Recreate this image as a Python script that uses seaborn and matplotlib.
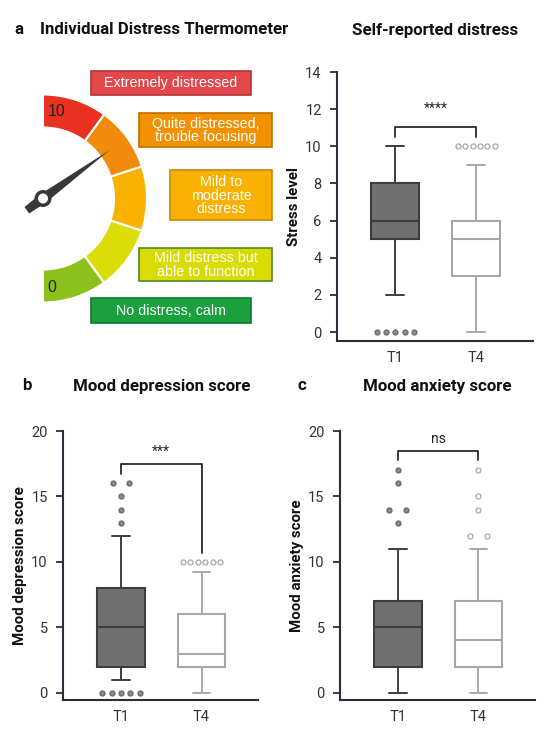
import numpy as np
import pandas as pd
import seaborn as sns
import matplotlib
matplotlib.use("Agg")
from matplotlib import pyplot as plt
from matplotlib.patches import Wedge, Rectangle, Polygon, Circle

sns.set_theme(style="ticks")
plt.rcParams['font.family'] = ['Roboto', 'DejaVu Sans']

groups = ["T1", "T4"]

# self-reported distress (box summaries)
stress_lo = [2, 0]
stress_q1 = [5, 3]
stress_med = [6, 5]
stress_q3 = [8, 6]
stress_hi = [10, 9]
stress_out = [[0, 0, 0, 0, 0], [10, 10, 10, 10, 10, 10]]

# mood depression score
dep_lo = [1, 0]
dep_q1 = [2, 2]
dep_med = [5, 3]
dep_q3 = [8, 6]
dep_hi = [12, 9.2]
dep_out = [[0, 0, 0, 0, 0, 13, 14, 15, 16, 16], [10, 10, 10, 10, 10, 10]]

# mood anxiety score
anx_lo = [0, 0]
anx_q1 = [2, 2]
anx_med = [5, 4]
anx_q3 = [7, 7]
anx_hi = [11, 11]
anx_out = [[13, 14, 14, 16, 17], [12, 12, 14, 15, 17]]

# thermometer levels, bottom to top
thermo_labels = ["No distress, calm", "Mild distress but\nable to function",
                 "Mild to\nmoderate\ndistress", "Quite distressed,\ntrouble focusing",
                 "Extremely distressed"]
thermo_seg_colors = ["#8cc11c", "#dcdc06", "#f9b200", "#f28b0c", "#e8321f"]
thermo_box_colors = ["#1aa03c", "#d8dc02", "#f8b100", "#f39200", "#e1474b"]
thermo_box_edges = ["#0f7a2c", "#4f8c1f", "#c48a00", "#c26f00", "#b43431"]
needle_angle = 36  # degrees above horizontal

dark = "#3d3d3d"
t1_fill = "#707070"
t4_edge = "#a8a8a8"
spine_col = "#2a2e38"

fig = plt.figure(figsize=(5.5, 7.4), dpi=100)

# ---- thermometer drawing (pixel space axes) ----
g = fig.add_axes([0, 0, 1, 1], zorder=0)
g.set_xlim(0, 550)
g.set_ylim(740, 0)
g.axis("off")

cx, cy, r_out, r_in = 43, 198.5, 104, 71
for i, col in enumerate(thermo_seg_colors):
    vis0 = -90 + 36 * i
    w = Wedge((cx, cy), r_out, -(vis0 + 36), -vis0, width=r_out - r_in,
              facecolor=col, edgecolor="white", lw=1.5)
    g.add_patch(w)

a = np.deg2rad(needle_angle)
d = np.array([np.cos(a), -np.sin(a)])
n = np.array([np.sin(a), np.cos(a)])
p = np.array([cx, cy])
needle = Polygon([p + 82 * d, p + 5 * n, p - 20 * d + 4 * n, p - 20 * d - 4 * n, p - 5 * n],
                 closed=True, facecolor="#383838", edgecolor="none")
g.add_patch(needle)
g.add_patch(Circle((cx, cy), 8.5, facecolor="#383838", edgecolor="none"))
g.add_patch(Circle((cx, cy), 5, facecolor="white", edgecolor="none"))
g.text(57, 112, "10", fontsize=11.5, ha="center", va="center", color="#222222",
       family=["Liberation Sans", "DejaVu Sans"])
g.text(52, 287, "0", fontsize=11.5, ha="center", va="center", color="#222222",
       family=["Liberation Sans", "DejaVu Sans"])

box_rects = [(91, 298, 251, 323), (139, 248, 272, 281), (170, 170, 272, 220),
             (139, 113, 272, 147), (91, 71, 251, 95)]
for lab, (x0, y0, x1, y1), fc, ec in zip(thermo_labels, box_rects, thermo_box_colors, thermo_box_edges):
    g.add_patch(Rectangle((x0, y0), x1 - x0, y1 - y0, facecolor=fc, edgecolor=ec, lw=1.2))
    g.text((x0 + x1) / 2, (y0 + y1) / 2 + 0.5, lab, ha="center", va="center", color="white",
           fontsize=10.3, linespacing=0.95, family=["Liberation Sans", "DejaVu Sans"])


def box_panel(rect, lo, q1, med, q3, hi, outs, ylim, yticks, ylabel, bracket, sig):
    ax = fig.add_axes(rect, zorder=2)
    ax.set_facecolor("none")
    styles = [dict(fill=t1_fill, edge=dark, med=dark, dot=("#8a8a8a", "#6a6a6a")),
              dict(fill="white", edge=t4_edge, med=t4_edge, dot=("white", t4_edge))]
    for i in range(2):
        st = styles[i]
        stats = [dict(whislo=lo[i], q1=q1[i], med=med[i], q3=q3[i], whishi=hi[i], fliers=[])]
        ax.bxp(stats, positions=[i], widths=0.59, capwidths=0.22, patch_artist=True,
               showfliers=False,
               boxprops=dict(facecolor=st["fill"], edgecolor=st["edge"], lw=1.5),
               medianprops=dict(color=st["med"], lw=1.5),
               whiskerprops=dict(color=st["edge"], lw=1.4),
               capprops=dict(color=st["edge"], lw=1.4))
        # spread tied outliers side by side
        xs, ys = [], []
        for v in sorted(set(outs[i])):
            k = outs[i].count(v)
            sp = min(0.21, 0.46 / max(k - 1, 1))
            xs += list(i + (np.arange(k) - (k - 1) / 2) * sp)
            ys += [v] * k
        sns.scatterplot(x=xs, y=ys, ax=ax, s=13, color=st["dot"][0],
                        edgecolor=st["dot"][1], linewidth=0.9, zorder=3)
    y_l, y_top, y_r, y_txt = bracket
    ax.plot([0, 0, 1, 1], [y_l, y_top, y_top, y_r], color="#2a2a2a", lw=1.3)
    ax.text(0.5, y_txt, sig, ha="center", va="center", fontsize=10, color="#222222")
    ax.set_xlim(-0.72, 1.70)
    ax.set_ylim(*ylim)
    ax.set_xticks([0, 1])
    ax.set_xticklabels(groups)
    ax.set_yticks(yticks)
    ax.set_ylabel(ylabel, fontsize=10.8, fontweight="bold", color="#111111", labelpad=3)
    ax.tick_params(axis="both", labelsize=10.5, colors=spine_col, labelcolor="#333333",
                   length=5, width=1.3, pad=6)
    ax.tick_params(axis="x", length=0, pad=7)
    sns.despine(ax=ax)
    for s in ["left", "bottom"]:
        ax.spines[s].set_color(spine_col)
        ax.spines[s].set_linewidth(1.5)
    return ax


box_panel([0.6127, 0.5392, 0.3564, 0.3635], stress_lo, stress_q1, stress_med, stress_q3,
          stress_hi, stress_out, (-0.48, 14), range(0, 15, 2), "Stress level",
          (10.5, 11.05, 10.5, 12.0), "****")
box_panel([0.1145, 0.054, 0.3545, 0.3635], dep_lo, dep_q1, dep_med, dep_q3,
          dep_hi, dep_out, (-0.55, 20), range(0, 21, 5), "Mood depression score",
          (16.7, 17.5, 10.7, 18.4), "***")
box_panel([0.618, 0.054, 0.3545, 0.3635], anx_lo, anx_q1, anx_med, anx_q3,
          anx_hi, anx_out, (-0.55, 20), range(0, 21, 5), "Mood anxiety score",
          (17.8, 18.5, 17.8, 19.4), "ns")

title_kw = dict(fontsize=12.2, fontweight="bold", color="#111111", va="center")
fig.text(14 / 550, 1 - 29 / 740, "a", **title_kw)
fig.text(40 / 550, 1 - 30 / 740, "Individual Distress Thermometer", **title_kw)
fig.text(435 / 550, 1 - 30 / 740, "Self-reported distress", ha="center", **title_kw)
fig.text(22 / 550, 1 - 385 / 740, "b", **title_kw)
fig.text(162 / 550, 1 - 386 / 740, "Mood depression score", ha="center", **title_kw)
fig.text(298 / 550, 1 - 385 / 740, "c", **title_kw)
fig.text(437 / 550, 1 - 386 / 740, "Mood anxiety score", ha="center", **title_kw)

fig.savefig("out.png", dpi=100, facecolor="white")
